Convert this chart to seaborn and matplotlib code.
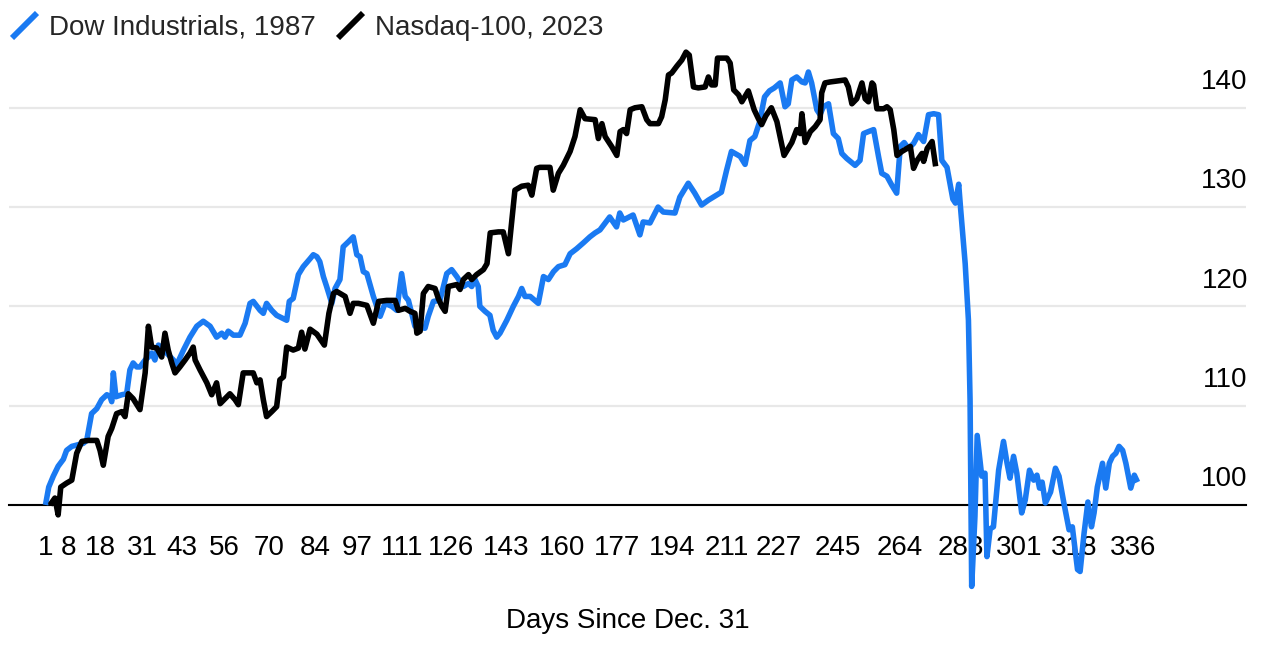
import pandas as pd
import matplotlib
matplotlib.use("Agg")
import matplotlib.pyplot as plt
import matplotlib.transforms as mtransforms
from matplotlib.lines import Line2D
from matplotlib.path import Path
import seaborn as sns

# -------------------------------------------------
# DATA (index = 100 on Dec. 31)
# -------------------------------------------------
dow_day = [1, 2, 3.4, 4.9, 6.5, 7.5, 9.1, 12.6, 13.7, 15.2, 16.8, 18.3, 19.9, 20.9, 21.4, 21.9,
           22.7, 24.5, 26, 27, 28, 29.1, 30.1, 31.7, 32.7, 33.7, 34.7, 35.8, 36.8, 38.3, 40.4,
           41.4, 43.5, 45.5, 47.6, 49.6, 51.7, 53.7, 55.3, 56.3, 57.3, 58.9, 60.9, 62.5, 64, 65,
           67.1, 68.1, 69.1, 70.7, 72.2, 75.3, 76.1, 77.3, 78.9, 80.4, 82.5, 83.5, 84.6, 85.5,
           86.6, 87.6, 89.2, 90.2, 91.7, 92.7, 94.3, 95.8, 96.9, 97.9, 98.9, 100, 102, 104.1,
           105.6, 107.7, 109.2, 110.7, 111.8, 112.8, 113.8, 114.8, 117.9, 118.9, 120.5, 122.5,
           124.6, 126.1, 127.7, 129.7, 131.3, 132.3, 133.3, 134.3, 134.8, 136.4, 137.9, 138.9,
           140, 141, 143.1, 145.1, 146.7, 147.7, 148.7, 150.3, 152.8, 154.4, 155.9, 157.5, 159,
           161, 162.6, 164.6, 166.7, 168.7, 170.3, 171.8, 174.8, 176.9, 177.9, 179, 182, 184.1,
           185.1, 187.2, 189.7, 191.3, 194.9, 196.4, 199, 201, 203.1, 205.2, 207.7, 209.2, 210.8,
           212.3, 215, 216.5, 218, 219.5, 221, 222.5, 224, 225.5, 227.3, 228.8, 229.8, 230.9,
           232.4, 234, 235, 236, 237, 238.6, 239.6, 240.6, 242.2, 243.7, 245.2, 246.3, 247.8,
           250.4, 251.9, 253, 254.5, 256.1, 257.6, 258.6, 260.2, 261.7, 263.2, 264.3, 265.5,
           266.8, 268.4, 269.9, 271.5, 273, 274.6, 276.1, 277.1, 278.7, 280.5, 281.3, 282.3,
           282.9, 284.3, 285.3, 285.8, 286.3, 287.3, 288, 289.4, 290.4, 291, 292, 293, 294.6,
           296.1, 297.2, 298.1, 299.2, 300.2, 301.7, 302.8, 304.1, 305.4, 306.4, 307.2, 308, 309,
           310.6, 312.1, 313.2, 314.7, 316.3, 317.3, 318.9, 319.7, 320.9, 322.1, 323.2, 324, 325,
           326.6, 327.6, 328.7, 329.7, 330.7, 331.7, 332.8, 333.8, 335.3, 336.4, 337.4]
dow_val = [100.0, 101.8, 102.9, 103.9, 104.6, 105.5, 105.9, 106.2, 106.5, 109.2, 109.7, 110.6,
           111.1, 110.9, 110.4, 113.3, 110.9, 111.1, 111.2, 113.6, 114.3, 113.9, 113.9, 114.6,
           114.9, 115.3, 114.6, 116.1, 115.8, 115.3, 114.6, 114.1, 115.6, 116.9, 118.0, 118.5,
           118.0, 116.9, 117.3, 116.9, 117.5, 117.1, 117.1, 118.3, 120.3, 120.5, 119.6, 119.3,
           120.3, 119.6, 119.1, 118.6, 120.5, 120.8, 123.2, 124.0, 124.8, 125.2, 125.0, 124.5,
           123.0, 122.0, 120.3, 121.8, 122.7, 126.0, 126.5, 127.0, 125.2, 125.0, 123.5, 123.3,
           121.0, 119.0, 120.3, 120.0, 119.6, 123.3, 121.0, 120.6, 119.3, 118.0, 117.8, 119.0,
           120.5, 120.6, 123.3, 123.7, 123.0, 122.0, 122.3, 122.0, 122.7, 122.0, 120.0, 119.5,
           119.1, 117.6, 116.9, 117.3, 118.6, 120.0, 121.0, 121.8, 121.0, 121.0, 120.3, 123.0,
           122.7, 123.5, 124.0, 124.2, 125.3, 125.8, 126.4, 127.0, 127.4, 127.7, 129.0, 128.0,
           129.4, 128.7, 129.2, 127.2, 128.5, 128.4, 130.0, 129.5, 129.4, 131.0, 132.4, 131.4,
           130.2, 130.7, 131.2, 131.5, 133.7, 135.6, 135.1, 134.3, 136.7, 137.1, 138.6, 141.1,
           141.7, 142.0, 142.5, 140.1, 140.4, 142.8, 143.1, 142.6, 142.5, 143.6, 142.5, 139.8,
           139.3, 140.1, 140.4, 137.4, 136.9, 135.4, 134.9, 134.2, 134.7, 137.4, 137.6, 137.8,
           135.1, 133.4, 133.1, 132.2, 131.4, 136.1, 136.5, 135.9, 136.4, 137.3, 136.6, 139.3,
           139.4, 139.3, 134.7, 134.0, 130.8, 130.4, 132.3, 129.8, 124.3, 118.6, 110.6, 91.8,
           98.8, 107.0, 102.9, 103.2, 94.8, 97.6, 97.8, 103.5, 106.4, 104.2, 102.7, 104.9, 103.2,
           99.2, 100.5, 103.5, 102.5, 103.0, 101.7, 102.3, 100.2, 101.3, 103.7, 102.9, 100.2,
           97.5, 97.8, 93.5, 93.3, 97.1, 100.3, 97.8, 99.2, 101.8, 104.2, 101.7, 104.2, 104.9,
           105.2, 105.9, 105.5, 104.2, 101.7, 103.0, 102.3]

ndx_day = [2.4, 3.9, 4.9, 5.7, 7.5, 9.1, 10.6, 12.2, 14.2, 16.8, 17.8, 18.8, 20.3, 21.4, 22.9,
           24.5, 25.5, 26.5, 28, 30.1, 31.7, 32.7, 33.7, 35.3, 36.8, 37.8, 38.8, 39.9, 40.9,
           42.4, 44, 45.5, 46.5, 47.1, 48.6, 50.7, 52.2, 53.7, 54.8, 56.3, 57.8, 59.4, 60.4,
           61.9, 65, 66.1, 67.1, 68.1, 69.1, 70.7, 72.2, 73.2, 74.3, 75.3, 77.3, 78.9, 79.9,
           80.9, 82.5, 84.6, 86.9, 88.3, 89.7, 90.7, 93.3, 94.8, 95.8, 97.4, 100, 102, 103.6,
           106.1, 108.7, 109.7, 111.8, 113.3, 114.8, 115.4, 116.4, 117.4, 118.9, 121, 122, 123.1,
           124.1, 125.1, 127.7, 128.7, 129.7, 131.3, 132.3, 133.8, 135.9, 137, 138, 140.5, 142,
           143.6, 145.6, 147.7, 149.7, 150.8, 152.3, 153.3, 156.4, 157.4, 159, 160.5, 162.6,
           164.1, 165.7, 167.2, 170.3, 171.3, 172.4, 173.4, 175.4, 177, 178, 179, 180, 181.1,
           182.6, 184.7, 186.2, 187.2, 189.8, 190.8, 191.9, 192.9, 193.9, 195.5, 197, 198.3,
           199.3, 200.6, 202.1, 204.2, 205.2, 206.2, 207.3, 208, 210.9, 211.9, 213, 214.5,
           215.5, 217.5, 219.3, 220.6, 221.6, 222.9, 224.6, 226.3, 228.5, 230.9, 232.4, 233.5,
           234, 235, 236.6, 238.1, 239.6, 240.1, 241.1, 242.7, 247.3, 248.3, 249.4, 250.9,
           252.5, 253.5, 254.5, 255.6, 256.1, 257.1, 259.2, 260.2, 261.2, 262.3, 263.3, 264.8,
           266.4, 267.4, 268.4, 269.5, 271, 271.5, 272.6, 274.1, 275.2]
ndx_val = [100.0, 100.7, 99.0, 101.8, 102.2, 102.5, 105.2, 106.4, 106.5, 106.5, 105.5, 104.0,
           106.9, 107.7, 109.2, 109.4, 108.9, 111.2, 110.7, 109.6, 113.3, 118.0, 115.9, 115.8,
           114.9, 117.3, 115.6, 114.3, 113.3, 113.9, 114.6, 115.3, 115.9, 114.6, 113.6, 112.3,
           111.1, 112.3, 110.2, 110.7, 111.2, 110.6, 110.1, 113.3, 113.3, 112.3, 112.6, 110.6,
           108.9, 109.4, 109.9, 112.6, 112.9, 115.9, 115.6, 115.8, 117.4, 115.7, 117.7, 117.2,
           116.1, 119.3, 121.3, 121.5, 121.0, 119.3, 120.3, 120.3, 120.1, 118.3, 120.5, 120.6,
           120.6, 119.6, 119.8, 119.5, 119.3, 117.3, 117.5, 121.3, 122.0, 121.8, 120.8, 120.0,
           119.5, 122.0, 122.2, 121.7, 122.7, 123.2, 122.7, 123.2, 123.7, 124.3, 127.4, 127.5,
           127.5, 125.3, 131.7, 132.1, 132.2, 131.2, 133.9, 134.0, 134.0, 131.7, 133.4, 134.2,
           135.6, 137.1, 139.8, 138.9, 138.8, 136.9, 138.4, 137.1, 136.1, 135.2, 137.6, 137.8,
           137.4, 139.8, 140.0, 140.1, 138.8, 138.4, 138.4, 139.1, 140.8, 143.3, 143.5, 144.2,
           144.8, 145.6, 145.3, 142.1, 142.0, 142.1, 143.1, 142.3, 142.3, 145.0, 145.0, 144.5,
           141.8, 141.3, 140.6, 141.7, 139.8, 138.9, 138.3, 139.2, 140.0, 138.6, 135.2, 136.5,
           137.8, 137.4, 139.4, 136.5, 137.6, 138.1, 138.8, 141.5, 142.5, 142.6, 142.8, 142.1,
           140.4, 140.9, 142.5, 140.9, 140.6, 142.5, 142.3, 139.9, 139.9, 140.1, 139.8, 137.8,
           135.2, 135.6, 135.9, 136.1, 133.9, 134.7, 135.4, 134.6, 135.9, 136.6, 134.1]

series_names = ["Dow Industrials, 1987", "Nasdaq-100, 2023"]
series_colors = ["#1a7af2", "#000000"]
tick_days = [1, 8, 18, 31, 43, 56, 70, 84, 97, 111, 126, 143, 160, 177, 194, 211, 227, 245,
             264, 283, 301, 318, 336]
y_ticks = [100, 110, 120, 130, 140]

df = pd.concat([
    pd.DataFrame({"day": dow_day, "value": dow_val, "series": series_names[0]}),
    pd.DataFrame({"day": ndx_day, "value": ndx_val, "series": series_names[1]}),
], ignore_index=True)

# -------------------------------------------------
# STYLE
# -------------------------------------------------
sns.set_style("white")
plt.rcParams["font.family"] = ["Liberation Sans", "DejaVu Sans"]
FS = 20

fig = plt.figure(figsize=(12.65, 6.48), dpi=100)
ax = fig.add_axes([9 / 1265, 48 / 648, 1237 / 1265, 555 / 648])

sns.lineplot(data=df, x="day", y="value", hue="series", hue_order=series_names,
             palette=series_colors, estimator=None, sort=False, linewidth=4.0,
             legend=False, ax=ax)
for ln in ax.lines:
    ln.set_zorder(5)
    ln.set_solid_joinstyle("round")
    ln.set_solid_capstyle("butt")

ax.set_xlim(-10.24, 370.8)
ax.set_ylim(90.43, 146.32)

# axes / spines
for s in ["left", "right", "top"]:
    ax.spines[s].set_visible(False)
ax.spines["bottom"].set_position(("data", 100))
ax.spines["bottom"].set_linewidth(1.5)
ax.spines["bottom"].set_color("black")

ax.set_xticks(tick_days)
ax.set_xticklabels([str(t) for t in tick_days])
ax.tick_params(axis="x", direction="out", length=9.4, width=1.5, pad=12,
               labelsize=FS, colors="black")

ax.set_yticks(y_ticks)
ax.tick_params(axis="y", length=0, labelleft=False)
ax.grid(axis="y", color="#e8e8e8", linewidth=1.6)
ax.set_axisbelow(True)
ax.set_xlabel("")
ax.set_ylabel("")

# y labels sit above their gridlines on the right
trans = mtransforms.blended_transform_factory(ax.transAxes, ax.transData)
for v in y_ticks:
    ax.text(1.0015, v + 2.6, str(v), transform=trans, ha="right", va="center",
            fontsize=FS, color="black")

fig.text(0.496, 1 - 621 / 648, "Days Since Dec. 31", ha="center", va="center",
         fontsize=FS, color="black")

# legend with slanted line swatches
slash = Path([(-1, -1), (1, 1)], [Path.MOVETO, Path.LINETO])
handles = [Line2D([], [], color=c, marker=slash, markersize=18, markeredgewidth=4.2,
                  linestyle="none") for c in series_colors]
ax.legend(handles, series_names, loc="upper left", bbox_to_anchor=(10 / 1265, 1 - 15 / 648),
          bbox_transform=fig.transFigure, ncol=2, frameon=False, fontsize=FS,
          handlelength=1.0, handletextpad=0.4, columnspacing=0.75, borderpad=0,
          borderaxespad=0)

fig.savefig("out.png", dpi=100, facecolor="white")
